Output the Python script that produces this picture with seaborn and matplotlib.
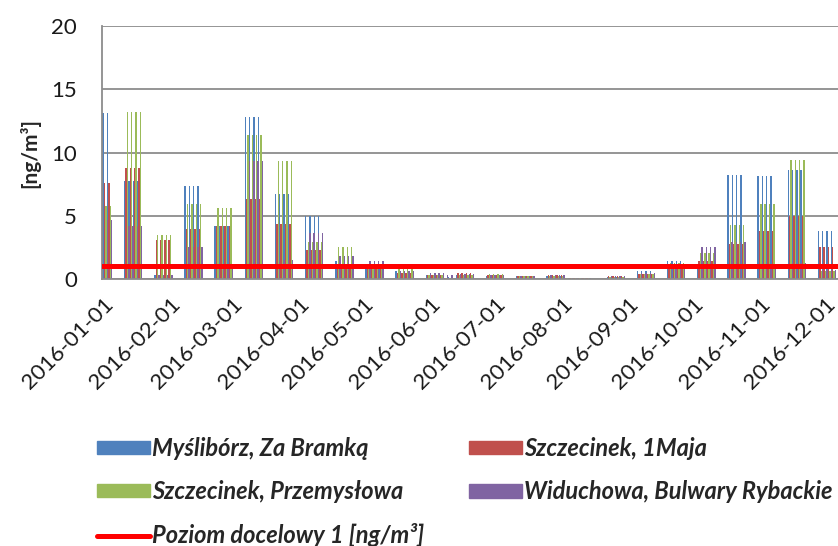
import pandas as pd
import seaborn as sns
from matplotlib import pyplot as plt
from matplotlib.lines import Line2D
from matplotlib.patches import Patch

# sampling periods: first sample (day of year 2016), number of samples (every 2nd day)
first_day = [1, 11, 25, 39, 53, 67, 81, 95, 109, 123, 137, 151, 159, 165, 179, 193,
             207, 215, 235, 249, 263, 277, 291, 305, 319, 333]
n_samples = [2, 4, 4, 4, 4, 4, 4, 4, 4, 4, 4, 4, 2, 4, 4, 4,
             4, 6, 4, 4, 4, 4, 4, 4, 4, 4]
# mean values per station for each period [ng/m3]
mysliborz = [13.1, 7.75, 0.3, 7.35, 4.2, 12.8, 6.7, 5.0, 1.4, 1.0, 0.6, 0.35, 0.15, 0.3, 0.2, 0.25,
             0.2, 0.1, 0.15, 0.6, 1.4, 1.0, 8.2, 8.15, 8.65, 3.8]
szczecinek_1maja = [7.6, 8.75, 3.1, 3.95, 4.2, 6.3, 4.35, 2.3, 1.2, 1.0, 0.5, 0.3, 0.1, 0.45, 0.3, 0.2,
                    0.3, 0.05, 0.2, 0.4, 1.0, 1.4, 2.8, 3.8, 5.0, 2.55]
szczecinek_przem = [5.8, 13.2, 3.45, 5.9, 5.6, 11.4, 9.35, 2.9, 2.55, 1.0, 0.8, 0.3, 0.1, 0.3, 0.4, 0.25,
                    0.2, 0.05, 0.15, 0.4, 1.3, 2.05, 4.25, 5.9, 9.45, 0.6]
widuchowa = [4.7, 4.2, 0.3, 2.5, 0.8, 9.3, 1.5, 3.65, 1.85, 1.4, 0.6, 0.45, 0.3, 0.4, 0.3, 0.2,
             0.3, 0.05, 0.2, 0.5, 1.2, 2.55, 2.95, 0.85, 1.3, 0.7]
target_level = 1

stations = ["Myślibórz, Za Bramką", "Szczecinek, 1Maja",
            "Szczecinek, Przemysłowa", "Widuchowa, Bulwary Rybackie"]
colors = ["#4F81BD", "#C0504D", "#9BBB59", "#8064A2"]
target_label = "Poziom docelowy 1 [ng/m³]"
month_starts = pd.date_range("2016-01-01", "2016-12-01", freq="MS")

# long-form table, one row per sample day and station
rows = []
for st, vals in zip(stations, [mysliborz, szczecinek_1maja, szczecinek_przem, widuchowa]):
    for s, n, v in zip(first_day, n_samples, vals):
        for k in range(n):
            rows.append([s + 2 * k, st, v])
df = pd.DataFrame(rows, columns=["day", "station", "value"])

sns.set_style("white")
plt.rcParams["font.family"] = ["Lato", "DejaVu Sans"]

fig = plt.figure(figsize=(8.38, 5.46), dpi=100)
ax = fig.add_axes([0.1217, 0.489, 0.878, 0.463])

sns.barplot(data=df, x="day", y="value", hue="station", hue_order=stations,
            palette=colors, native_scale=True, dodge=True, width=1.3,
            saturation=1, linewidth=0, errorbar=None, legend=False, ax=ax, zorder=2)
ax.axhline(target_level, color="red", lw=3.6, zorder=4)

ax.set_xlim(-0.5, 341)
ax.set_ylim(0, 20)
ax.set_yticks([0, 5, 10, 15, 20])
ax.yaxis.grid(True, color="#8c8c8c", lw=1.3, zorder=0)
ax.set_axisbelow(True)
for sp in ["top", "right"]:
    ax.spines[sp].set_visible(False)
for sp in ["left", "bottom"]:
    ax.spines[sp].set_color("#8c8c8c")
    ax.spines[sp].set_linewidth(1.3)

tick_pos = [(d - month_starts[0]).days for d in month_starts]
ax.set_xticks(tick_pos)
ax.set_xticklabels([d.strftime("%Y-%m-%d") for d in month_starts], rotation=45,
                   ha="right", va="top", rotation_mode="anchor", fontsize=16, color="#1a1a1a")
ax.tick_params(axis="x", length=7, width=1.3, color="#8c8c8c", pad=4)
ax.tick_params(axis="y", length=5, width=1.3, color="#8c8c8c", labelsize=16,
               labelcolor="#1a1a1a", pad=13)
ax.set_xlabel("")
ax.set_ylabel("[ng/m³]", fontsize=15, fontweight="bold", labelpad=8)

# legend: two columns placed like the original, line entry under the first column
leg_font = dict(weight="bold", style="italic", size=17)
leg_kw = dict(loc="center left", frameon=False, prop=leg_font, borderpad=0, borderaxespad=0,
              handlelength=2.25, handleheight=0.5, handletextpad=0.1, labelspacing=0.86)
col1 = [Patch(color=colors[0], label=stations[0]),
        Patch(color=colors[2], label=stations[2]),
        Line2D([], [], color="red", lw=3.6, label=target_label)]
col2 = [Patch(color=colors[1], label=stations[1]),
        Patch(color=colors[3], label=stations[3])]
fig.legend(handles=col1, bbox_to_anchor=(97 / 838, 1 - 492 / 546), **leg_kw)
fig.legend(handles=col2, bbox_to_anchor=(469 / 838, 1 - 470 / 546), **leg_kw)

fig.savefig("out.png", dpi=100)
